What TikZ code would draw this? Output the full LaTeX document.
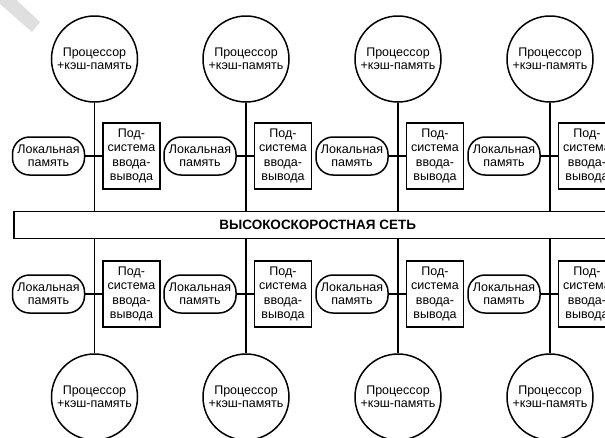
\documentclass[tikz,border=0pt]{standalone}
\usepackage{fontspec}
\setmainfont{Liberation Sans}
\usepackage{tikz}

\begin{document}
\begin{tikzpicture}[x=1pt,y=-1pt,line width=1.5pt,
  cpu/.style={shape=circle,draw=black,minimum size=86pt,inner sep=0pt,align=center,font=\fontsize{12.5}{13}\selectfont},
  mem/.style={shape=rectangle,draw=black,rounded corners=17pt,minimum width=72pt,minimum height=38pt,inner sep=0pt,align=center,font=\fontsize{12.5}{13.5}\selectfont},
  io/.style={shape=rectangle,draw=black,minimum width=57pt,minimum height=66pt,inner sep=0pt,align=center,font=\fontsize{12.5}{14.5}\selectfont}]
\def\xa{94.5};
\def\xb{246};
\def\xc{398};
\def\xd{550};
\def\dl{46};
\def\dv{37};
\def\ya{59};
\def\yb{156};
\def\yc{294};
\def\yd{397};

\useasboundingbox (0,0) rectangle (605,437);
\clip (0,0) rectangle (605,437);

% grey mark of the scan
\fill[gray!25] (0,-8) -- (8,-8) -- (40,22) -- (32,32) -- (0,4) -- cycle;

\node[draw=black,minimum width=610pt,minimum height=27pt,inner sep=0pt,anchor=west,font=\fontsize{13.5}{14}\selectfont\bfseries] (N) at (13,225) {\hspace*{-2pt}\makebox[590pt]{ВЫСОКОСКОРОСТНАЯ СЕТЬ}};

% upper row
\node[cpu] (P1) at (\xa,\ya) {Процессор\\+кэш-память};
\node[mem] (L1) at (\xa-\dl,\yb) {Локальная\\память};
\node[io] (V1) at (\xa+\dv,\yb) {Под-\\система\\ввода-\\вывода};
\draw (P1.south) -- (P1.south |- N.north);
\draw (L1.east) -- (V1.west);

\node[cpu] (P2) at (\xb,\ya) {Процессор\\+кэш-память};
\node[mem] (L2) at (\xb-\dl,\yb) {Локальная\\память};
\node[io] (V2) at (\xb+\dv,\yb) {Под-\\система\\ввода-\\вывода};
\draw (P2.south) -- (P2.south |- N.north);
\draw (L2.east) -- (V2.west);

\node[cpu] (P3) at (\xc,\ya) {Процессор\\+кэш-память};
\node[mem] (L3) at (\xc-\dl,\yb) {Локальная\\память};
\node[io] (V3) at (\xc+\dv,\yb) {Под-\\система\\ввода-\\вывода};
\draw (P3.south) -- (P3.south |- N.north);
\draw (L3.east) -- (V3.west);

\node[cpu] (P4) at (\xd,\ya) {Процессор\\+кэш-память};
\node[mem] (L4) at (\xd-\dl,\yb) {Локальная\\память};
\node[io] (V4) at (\xd+\dv,\yb) {Под-\\система\\ввода-\\вывода};
\draw (P4.south) -- (P4.south |- N.north);
\draw (L4.east) -- (V4.west);

% lower row
\node[cpu] (P5) at (\xa,\yd) {Процессор\\+кэш-память};
\node[mem] (L5) at (\xa-\dl,\yc) {Локальная\\память};
\node[io] (V5) at (\xa+\dv,\yc) {Под-\\система\\ввода-\\вывода};
\draw (P5.north) -- (P5.north |- N.south);
\draw (L5.east) -- (V5.west);

\node[cpu] (P6) at (\xb,\yd) {Процессор\\+кэш-память};
\node[mem] (L6) at (\xb-\dl,\yc) {Локальная\\память};
\node[io] (V6) at (\xb+\dv,\yc) {Под-\\система\\ввода-\\вывода};
\draw (P6.north) -- (P6.north |- N.south);
\draw (L6.east) -- (V6.west);

\node[cpu] (P7) at (\xc,\yd) {Процессор\\+кэш-память};
\node[mem] (L7) at (\xc-\dl,\yc) {Локальная\\память};
\node[io] (V7) at (\xc+\dv,\yc) {Под-\\система\\ввода-\\вывода};
\draw (P7.north) -- (P7.north |- N.south);
\draw (L7.east) -- (V7.west);

\node[cpu] (P8) at (\xd,\yd) {Процессор\\+кэш-память};
\node[mem] (L8) at (\xd-\dl,\yc) {Локальная\\память};
\node[io] (V8) at (\xd+\dv,\yc) {Под-\\система\\ввода-\\вывода};
\draw (P8.north) -- (P8.north |- N.south);
\draw (L8.east) -- (V8.west);
\end{tikzpicture}
\end{document}
